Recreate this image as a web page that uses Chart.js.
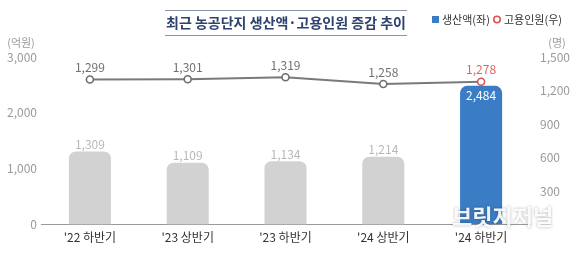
<!DOCTYPE html>
<html>
<head>
<meta charset="utf-8">
<script src="https://cdn.jsdelivr.net/npm/chart.js@4.4.1/dist/chart.umd.min.js"></script>
<style>
  html, body { margin: 0; padding: 0; background: #fff; }
  #wrap { width: 577px; height: 253px; position: relative; }
</style>
</head>
<body>
<div id="wrap"><canvas id="chart"></canvas></div>
<script>
// 데이터
const categories = ["'22 하반기", "'23 상반기", "'23 하반기", "'24 상반기", "'24 하반기"];
const production = [1309, 1109, 1134, 1214, 2484];   // 생산액(억원)
const employment = [1299, 1301, 1319, 1258, 1278];   // 고용인원(명)
const leftTicks = [0, 1000, 2000, 3000];
const rightTicks = [0, 300, 600, 900, 1200, 1500];

const FONT = "'Noto Sans CJK KR', 'Noto Sans', sans-serif";
const fmt = v => v.toLocaleString('en-US');

const barColors = production.map((v, i) => i === production.length - 1 ? '#3b7dc4' : '#d2d2d2');
const pointBorders = employment.map((v, i) => i === employment.length - 1 ? '#d9534f' : '#6e6e6e');

// 제목, 범례, 단위, 값 라벨 그리기
const decor = {
    id: 'decor',
    afterDatasetsDraw(chart) {
        const ctx = chart.ctx;
        ctx.save();

        // 제목
        ctx.strokeStyle = '#8b95a8';
        ctx.lineWidth = 1;
        ctx.beginPath();
        ctx.moveTo(165, 10.5); ctx.lineTo(407, 10.5);
        ctx.moveTo(165, 35.5); ctx.lineTo(407, 35.5);
        ctx.stroke();
        ctx.fillStyle = '#2d4270';
        ctx.font = 'bold 14px ' + FONT;
        ctx.textAlign = 'center';
        ctx.textBaseline = 'middle';
        ctx.fillText('최근 농공단지 생산액·고용인원 증감 추이', 286, 23);

        // 범례
        ctx.font = '11px ' + FONT;
        ctx.textAlign = 'left';
        ctx.fillStyle = '#3b7dc4';
        ctx.fillRect(432, 16, 7, 7);
        ctx.fillStyle = '#333';
        ctx.fillText('생산액(좌)', 442, 20);
        ctx.strokeStyle = '#d9534f';
        ctx.lineWidth = 1.6;
        ctx.beginPath();
        ctx.arc(497, 19.5, 3.2, 0, Math.PI * 2);
        ctx.stroke();
        ctx.fillText('고용인원(우)', 504, 20);

        // 단위
        ctx.fillStyle = '#9a9a9a';
        ctx.font = '11px ' + FONT;
        ctx.textAlign = 'center';
        ctx.fillText('(억원)', 21, 43);
        ctx.fillText('(명)', 557, 43);

        // 막대 값
        ctx.font = '12px ' + FONT;
        const barMeta = chart.getDatasetMeta(0);
        barMeta.data.forEach((bar, i) => {
            const last = i === production.length - 1;
            ctx.fillStyle = last ? '#ffffff' : '#b8b8b8';
            ctx.textBaseline = last ? 'top' : 'bottom';
            ctx.fillText(fmt(production[i]), bar.x, last ? bar.y + 4 : bar.y - 1);
        });

        // 선 값
        ctx.font = '12px ' + FONT;
        const lineMeta = chart.getDatasetMeta(1);
        lineMeta.data.forEach((pt, i) => {
            const last = i === employment.length - 1;
            ctx.fillStyle = last ? '#e06464' : '#707070';
            ctx.textBaseline = 'bottom';
            ctx.fillText(fmt(employment[i]), pt.x, pt.y - 6);
        });

        // 워터마크
        ctx.font = 'bold 22px ' + FONT;
        ctx.textAlign = 'left';
        ctx.textBaseline = 'middle';
        ctx.fillStyle = 'rgba(255,255,255,0.92)';
        ctx.shadowColor = 'rgba(0,0,0,0.35)';
        ctx.shadowBlur = 3;
        ctx.fillText('브릿지저널', 452, 217);
        ctx.restore();
    }
};

new Chart(document.getElementById('chart'), {
    data: {
        labels: categories,
        datasets: [
            {
                type: 'bar',
                label: '생산액(좌)',
                data: production,
                yAxisID: 'yL',
                backgroundColor: barColors,
                borderRadius: { topLeft: 7, topRight: 7 },
                borderSkipped: 'bottom',
                barPercentage: 0.43,
                categoryPercentage: 1,
                order: 1
            },
            {
                type: 'line',
                label: '고용인원(우)',
                data: employment,
                yAxisID: 'yR',
                borderColor: '#7a7a7a',
                borderWidth: 2,
                pointRadius: 3.5,
                pointBorderWidth: 1.6,
                pointBackgroundColor: '#fff',
                pointBorderColor: pointBorders,
                tension: 0,
                order: 0
            }
        ]
    },
    options: {
        responsive: true,
        maintainAspectRatio: false,
        animation: false,
        layout: { padding: { top: 57, bottom: 2, left: 0, right: 0 } },
        plugins: {
            legend: { display: false },
            tooltip: { enabled: false }
        },
        scales: {
            x: {
                grid: { display: false, drawTicks: false },
                border: { display: true, color: '#9a9a9a', width: 1 },
                ticks: { color: '#333', font: { family: FONT, size: 12 }, padding: 6 }
            },
            yL: {
                position: 'left',
                min: 0, max: 3000,
                afterBuildTicks: axis => { axis.ticks = leftTicks.map(v => ({ value: v })); },
                grid: { display: false, drawTicks: false },
                border: { display: false },
                ticks: { color: '#9a9a9a', font: { family: FONT, size: 12 }, padding: 4, callback: v => fmt(v) },
                afterFit: axis => { axis.width = 41; }
            },
            yR: {
                position: 'right',
                min: 0, max: 1500,
                afterBuildTicks: axis => { axis.ticks = rightTicks.map(v => ({ value: v })); },
                grid: { display: false, drawTicks: false },
                border: { display: false },
                ticks: { color: '#9a9a9a', font: { family: FONT, size: 12 }, padding: 10, callback: v => v === 0 ? '' : fmt(v) },
                afterFit: axis => { axis.width = 47; }
            }
        }
    },
    plugins: [decor]
});
</script>
</body>
</html>
